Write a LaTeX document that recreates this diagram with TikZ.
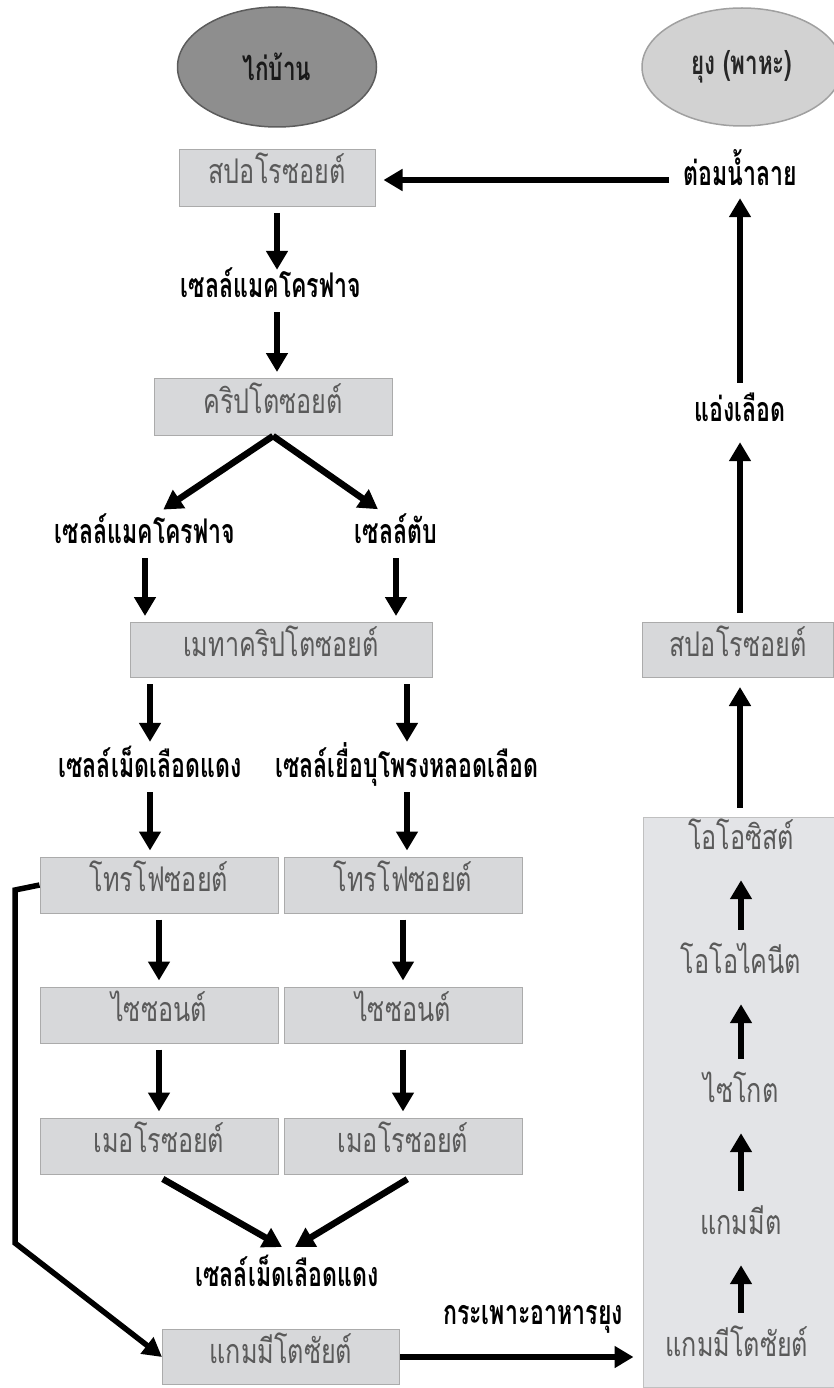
\documentclass[tikz,border=0pt]{standalone}
\usepackage{fontspec}
\newfontfamily\thaifont[Script=Thai,FakeStretch=0.74]{Loma}
\newfontfamily\thaibold[Script=Thai,FakeStretch=0.68]{Loma}
\usetikzlibrary{arrows.meta,shapes.geometric}
\definecolor{hostgray}{HTML}{8E8E8E}
\definecolor{hostline}{HTML}{5C5C5C}
\definecolor{vecgray}{HTML}{D2D2D2}
\definecolor{vecline}{HTML}{A0A0A0}
\definecolor{boxgray}{HTML}{D7D8DA}
\definecolor{boxline}{HTML}{ABABAB}
\definecolor{panelgray}{HTML}{E3E4E7}
\definecolor{panelline}{HTML}{C0C0C0}
\definecolor{stagetext}{HTML}{5A5A5A}
\begin{document}
\begin{tikzpicture}[x=1pt, y=-1pt,
    every node/.style={font=\thaifont\fontsize{34}{38}\selectfont},
    host/.style={ellipse, draw=hostline, fill=hostgray, line width=1.5pt, minimum width=199pt, minimum height=120pt, text=black!90, font=\thaibold\bfseries\fontsize{33}{38}\selectfont},
    vector/.style={ellipse, draw=vecline, fill=vecgray, line width=1.5pt, minimum width=200pt, minimum height=118pt, text=black!85, font=\thaibold\bfseries\fontsize{33}{38}\selectfont},
    stage/.style={rectangle, draw=boxline, fill=boxgray, line width=1pt, text=stagetext, minimum width=238pt, minimum height=56pt, inner sep=0pt, text height=18pt, text depth=6pt},
    site/.style={inner sep=0pt, text height=18pt, text depth=6pt, minimum height=30pt, font=\thaibold\bfseries\fontsize{34}{38}\selectfont},
    inner/.style={inner sep=0pt, text=stagetext, text height=18pt, text depth=6pt, minimum height=50pt},
    flow/.style={line width=6.5pt, -{Triangle[width=21pt,length=19pt]}, shorten <=6pt, shorten >=6pt},
    detour/.style={line width=5.5pt, -{Triangle[width=20pt,length=19pt]}, line join=miter}]
    \useasboundingbox (0,0) rectangle (834,1388);
    \node[host] (chicken) at (277, 67) {ไก่บ้าน};
    \node[vector] (mosquito) at (742, 67) {ยุง (พาหะ)};
    \node[stage, minimum width=196pt, minimum height=57pt] (sporoH) at (277, 178) {สปอโรซอยต์};
    \node[site] (saliva) at (740, 180) {ต่อมน้ำลาย};
    \node[site] (macroA) at (271, 291) {เซลล์แมคโครฟาจ};
    \node[stage, minimum height=57pt] (crypto) at (273, 407) {คริปโตซอยต์};
    \node[site] (macroB) at (145, 537) {เซลล์แมคโครฟาจ};
    \node[site] (liver) at (396, 537) {เซลล์ตับ};
    \node[stage, minimum width=302pt, minimum height=55pt] (meta) at (281, 650) {เมทาคริปโตซอยต์};
    \node[site] (rbcA) at (150, 771) {เซลล์เม็ดเลือดแดง};
    \node[site] (endo) at (407, 771) {เซลล์เยื่อบุโพรงหลอดเลือด};
    \node[stage] (trophA) at (159, 885) {โทรโฟซอยต์};
    \node[stage] (trophB) at (403, 885) {โทรโฟซอยต์};
    \node[stage] (schizA) at (159, 1015) {ไซซอนต์};
    \node[stage] (schizB) at (403, 1015) {ไซซอนต์};
    \node[stage] (meroA) at (159, 1146) {เมอโรซอยต์};
    \node[stage] (meroB) at (403, 1146) {เมอโรซอยต์};
    \node[site] (rbcB) at (287, 1280) {เซลล์เม็ดเลือดแดง};
    \node[stage, minimum width=237pt, minimum height=55pt] (gamH) at (281, 1357) {แกมมีโตซัยต์};
    \node[site] (gut) at (533, 1318) {กระเพาะอาหารยุง};
    \node[site] (pool) at (740, 415) {แอ่งเลือด};
    \node[stage, minimum width=191pt, minimum height=55pt] (sporoV) at (738, 650) {สปอโรซอยต์};
    \node[rectangle, draw=panelline, fill=panelgray, line width=1pt, minimum width=191pt, minimum height=570pt, inner sep=0pt] (midgut) at (738.5, 1102) {};
    \node[inner] (oocyst) at (741, 843) {โอโอซิสต์};
    \node[inner] (ookinete) at (741, 967) {โอโอไคนีต};
    \node[inner] (zygote) at (741, 1096) {ไซโกต};
    \node[inner] (gamete) at (741, 1228) {แกมมีต};
    \node[inner] (gamV) at (737, 1350) {แกมมีโตซัยต์};
    \coordinate (rbcL) at (282, 1247);
    \coordinate (rbcR) at (295, 1247);
    \coordinate (kinkA) at (15, 890);
    \coordinate (kinkB) at (15, 1243);
    \draw[flow, shorten <=14pt, shorten >=8pt] (saliva.west) -- (saliva.west -| sporoH.east);
    \draw[flow] (sporoH.south) -- (sporoH.south |- macroA.north);
    \draw[flow] (macroA.south -| sporoH.south) -- (crypto.north -| sporoH.south);
    \draw[flow, shorten <=0pt, shorten >=22pt] (crypto.south) -- (macroB.north);
    \draw[flow, shorten <=0pt, shorten >=22pt] (crypto.south) -- (liver.north);
    \draw[flow] (macroB) -- (macroB |- meta.north);
    \draw[flow] (liver) -- (liver |- meta.north);
    \draw[flow, shorten >=14pt] (meta.south -| rbcA) -- (rbcA);
    \draw[flow, shorten >=14pt] (meta.south -| endo) -- (endo);
    \draw[flow] (rbcA) -- (rbcA |- trophA.north);
    \draw[flow] (endo) -- (endo |- trophB.north);
    \draw[flow] (trophA) -- (schizA);
    \draw[flow] (trophB) -- (schizB);
    \draw[flow] (schizA) -- (meroA);
    \draw[flow] (schizB) -- (meroB);
    \draw[flow, shorten <=9pt, shorten >=0pt] ([xshift=-4pt]meroA.south) -- (rbcL);
    \draw[flow, shorten <=9pt, shorten >=0pt] ([xshift=12pt]meroB.south) -- (rbcR);
    \draw[detour] (trophA.west) -- (kinkA) -- (kinkB) -- (gamH.west);
    \draw[flow, shorten <=0pt, shorten >=9pt] (gamH.east) -- (gamH.east -| midgut.west);
    \draw[flow, shorten <=12pt, shorten >=12pt] (gamV.north -| gamete) -- (gamete.south);
    \draw[flow, shorten <=12pt, shorten >=12pt] (gamete) -- (zygote);
    \draw[flow, shorten <=12pt, shorten >=12pt] (zygote) -- (ookinete);
    \draw[flow, shorten <=12pt, shorten >=12pt] (ookinete) -- (oocyst);
    \draw[flow, shorten <=9pt, shorten >=9pt] (midgut.north -| pool) -- (sporoV.south -| pool);
    \draw[flow, shorten <=9pt, shorten >=12pt] (sporoV.north -| pool) -- (pool);
    \draw[flow, shorten <=17pt, shorten >=3pt] (pool) -- (saliva);
\end{tikzpicture}
\end{document}
